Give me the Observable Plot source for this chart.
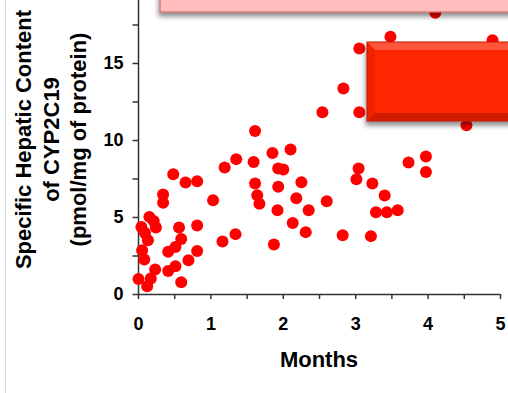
<!DOCTYPE html>
<html>
<head>
<meta charset="utf-8">
<script src="https://cdn.jsdelivr.net/npm/d3@7"></script>
<script src="https://cdn.jsdelivr.net/npm/@observablehq/plot@0.6"></script>
<style>
  html, body { margin: 0; padding: 0; background: #fff; }
  #chart { position: relative; width: 508px; height: 393px; overflow: hidden; }
</style>
</head>
<body>
<div id="chart"></div>
<script>
// Age in months and specific hepatic CYP2C19 content (pmol/mg of protein)
const months = [
  0.00, 0.12, 0.05, 0.08, 0.04, 0.09, 0.13, 0.15, 0.21, 0.24,
  0.23, 0.17, 0.41, 0.51, 0.59, 0.41, 0.51, 0.59, 0.56, 0.81,
  0.81, 0.69, 1.16, 1.34, 0.34, 0.34, 1.03, 0.48, 0.65, 0.81,
  1.19, 1.35, 1.61, 1.59, 1.61, 1.64, 1.67, 1.85, 2.10, 1.93,
  2.00, 1.93, 2.25, 2.18, 2.60, 1.92, 2.35, 2.13, 2.31, 1.87,
  2.82, 3.21, 3.04, 3.01, 3.23, 3.40, 3.28, 3.43, 3.58, 3.73,
  3.97, 3.97, 2.54, 3.05, 2.83, 3.05, 3.48, 4.89, 4.53, 4.10
];
const content = [
  1.01, 0.54, 2.88, 2.27, 4.39, 4.00, 3.53, 5.04, 4.78, 4.35,
  1.62, 1.04, 1.53, 1.84, 0.80, 2.77, 3.09, 3.61, 4.35, 4.48,
  2.83, 2.23, 3.44, 3.92, 5.95, 6.49, 6.12, 7.81, 7.27, 7.36,
  8.25, 8.79, 10.62, 8.61, 7.21, 6.45, 5.90, 9.19, 9.42, 8.18,
  8.12, 6.99, 7.29, 6.25, 6.06, 5.47, 5.47, 4.65, 4.05, 3.25,
  3.85, 3.79, 8.18, 7.49, 7.21, 6.43, 5.34, 5.34, 5.47, 8.57,
  8.96, 7.96, 11.84, 11.84, 13.38, 15.97, 16.73, 16.51, 10.99, 18.29
];

// Axis ticks (labels only on whole steps)
const xTicks = [0, 0.5, 1, 1.5, 2, 2.5, 3, 3.5, 4, 4.5, 5];
const yTicks = [0, 2.5, 5, 7.5, 10, 12.5, 15, 17.5];
const xLabel = "Months";
const yLabel = ["Specific Hepatic Content", "of CYP2C19", "(pmol/mg of protein)"];

const points = months.map((m, i) => ({month: m, value: content[i]}));

const fontFamily = "'Liberation Sans', Arial, Helvetica, sans-serif";
const axisColor = "#333";

const plot = Plot.plot({
  width: 508,
  height: 393,
  marginLeft: 138,
  marginRight: 8,
  marginTop: 0,
  marginBottom: 99,
  x: {domain: [0, 5]},
  y: {domain: [0, 19.09]},
  style: {fontFamily, fontWeight: "bold", fontSize: "18px", color: "#000", background: "#fff"},
  marks: [
    Plot.axisX(xTicks, {
      tickSize: 5, tickPadding: 17.5, stroke: axisColor, strokeWidth: 1.5,
      tickFormat: d => Number.isInteger(d) ? String(d) : "", label: null
    }),
    Plot.axisY(yTicks, {
      tickSize: 5.5, tickPadding: 9.5, stroke: axisColor, strokeWidth: 1.5,
      tickFormat: d => d % 5 === 0 ? String(d) : "", label: null
    }),
    Plot.ruleY([0], {stroke: axisColor, strokeWidth: 1.5}),
    Plot.ruleX([0], {stroke: axisColor, strokeWidth: 1.5}),
    Plot.dot(points, {x: "month", y: "value", r: 6, fill: "#ff0000", stroke: "none"})
  ]
});

document.getElementById("chart").appendChild(plot);

const svg = d3.select(plot);
const xs = plot.scale("x");

// Page edge rule on the left
svg.append("line")
  .attr("x1", 5.5).attr("x2", 5.5).attr("y1", 0).attr("y2", 393)
  .attr("stroke", "#dcdcdc").attr("stroke-width", 1);

// Axis titles
svg.append("text")
  .attr("x", (xs.range[0] + xs.range[1]) / 2)
  .attr("y", 367)
  .attr("text-anchor", "middle")
  .attr("font-size", 22)
  .attr("fill", "#000")
  .text(xLabel);

svg.append("g")
  .selectAll("text")
  .data(yLabel)
  .join("text")
  .attr("transform", (d, i) => `translate(${31 + 27.5 * i},139.5) rotate(-90)`)
  .attr("text-anchor", "middle")
  .attr("font-size", 22)
  .attr("fill", "#000")
  .text(d => d);

// Callout boxes laid over the plot
const defs = svg.append("defs");
defs.append("filter")
  .attr("id", "boxShadow")
  .attr("x", "-20%").attr("y", "-30%").attr("width", "140%").attr("height", "170%")
  .append("feDropShadow")
  .attr("dx", -1).attr("dy", 4).attr("stdDeviation", 2.5)
  .attr("flood-color", "#000").attr("flood-opacity", 0.45);

svg.append("rect")
  .attr("x", 160).attr("y", -20).attr("width", 380).attr("height", 32)
  .attr("fill", "#ffbdbd").attr("stroke", "#d46a6a").attr("stroke-width", 1.2)
  .attr("filter", "url(#boxShadow)");

const red = svg.append("g").attr("filter", "url(#boxShadow)");
const bx = 367, by = 42, bw = 170, bh = 79, bev = 8;
red.append("rect")
  .attr("x", bx).attr("y", by).attr("width", bw).attr("height", bh)
  .attr("fill", "#ff2600");
red.append("polygon")
  .attr("points", `${bx},${by} ${bx + bw},${by} ${bx + bw},${by + bev} ${bx + bev},${by + bev}`)
  .attr("fill", "#ff553a");
red.append("polygon")
  .attr("points", `${bx},${by} ${bx + bev},${by + bev} ${bx + bev},${by + bh - bev} ${bx},${by + bh}`)
  .attr("fill", "#f02400");
red.append("polygon")
  .attr("points", `${bx},${by + bh} ${bx + bev},${by + bh - bev} ${bx + bw},${by + bh - bev} ${bx + bw},${by + bh}`)
  .attr("fill", "#d21e00");
red.append("rect")
  .attr("x", bx).attr("y", by).attr("width", bw).attr("height", bh)
  .attr("fill", "none").attr("stroke", "#c01a00").attr("stroke-width", 1);
</script>
</body>
</html>
